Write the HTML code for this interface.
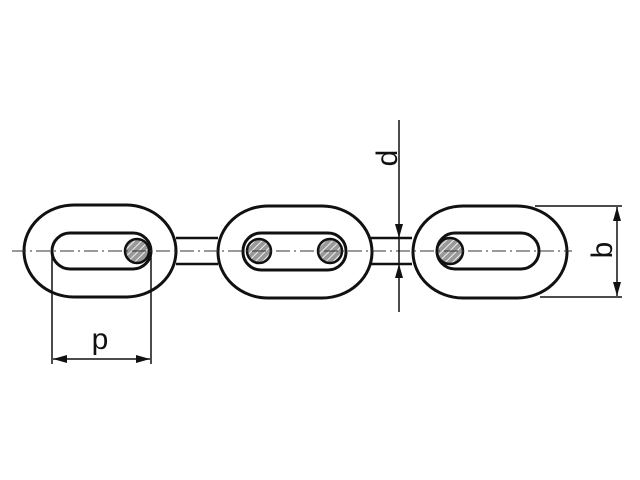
<!DOCTYPE html>
<html><head><meta charset="utf-8"><style>
html,body{margin:0;padding:0;background:#fff;}
svg{display:block}
text{font-family:"Liberation Sans",sans-serif;fill:#111}
</style></head><body>
<svg width="640" height="480" viewBox="0 0 640 480" xmlns="http://www.w3.org/2000/svg">
<defs>
<pattern id="h" width="5" height="5" patternUnits="userSpaceOnUse" patternTransform="rotate(45)">
<rect width="5" height="5" fill="#999"/>
<line x1="0" y1="0" x2="0" y2="5" stroke="#eee" stroke-width="2"/>
</pattern>
<marker id="a" markerWidth="14" markerHeight="8" refX="14" refY="4" orient="auto" markerUnits="userSpaceOnUse">
<path d="M0,0 L14,4 L0,8 Z" fill="#111"/>
</marker>
</defs>
<g fill="none" stroke="#111" stroke-width="3">
<!-- bars -->
<path d="M176,238 H218 M176,264 H218" stroke-width="2.5"/>
<path d="M370,238 H412 M370,264 H412" stroke-width="2.5"/>
<!-- link 1 -->
<rect x="24" y="205" width="152" height="92" rx="50" ry="46" fill="#fff"/>
<rect x="52" y="233" width="99" height="36" rx="18" fill="#fff"/>
<!-- link 2 -->
<rect x="218" y="206" width="154" height="92" rx="50" ry="46" fill="#fff"/>
<rect x="243" y="233" width="103" height="37" rx="18" fill="#fff"/>
<!-- link 3 -->
<rect x="413" y="206" width="154" height="92" rx="50" ry="46" fill="#fff"/>
<rect x="437" y="233" width="102" height="36" rx="18" fill="#fff"/>
</g>
<!-- pins -->
<g stroke="#111" stroke-width="2.5" fill="url(#h)">
<circle cx="137" cy="251" r="12"/>
<circle cx="259" cy="251" r="12"/>
<circle cx="330" cy="251" r="12"/>
<circle cx="450" cy="251" r="13"/>
</g>
<!-- centre line -->
<line x1="12" y1="251" x2="572" y2="251" stroke="#333" stroke-width="1" stroke-dasharray="14,4,2,4"/>
<!-- p dimension -->
<g stroke="#111" stroke-width="1.5" fill="none">
<line x1="52" y1="252" x2="52" y2="364"/>
<line x1="151" y1="252" x2="151" y2="364"/>
<line x1="100" y1="359" x2="53" y2="359" marker-end="url(#a)"/>
<line x1="100" y1="359" x2="150" y2="359" marker-end="url(#a)"/>
<!-- d -->
<line x1="399" y1="120" x2="399" y2="238" marker-end="url(#a)"/>
<line x1="399" y1="312" x2="399" y2="264" marker-end="url(#a)"/>
<line x1="399" y1="238" x2="399" y2="264"/>
<!-- b -->
<line x1="535" y1="206" x2="622" y2="206"/>
<line x1="540" y1="297" x2="622" y2="297"/>
<line x1="617" y1="250" x2="617" y2="207" marker-end="url(#a)"/>
<line x1="617" y1="250" x2="617" y2="296" marker-end="url(#a)"/>
</g>
<text x="100" y="349" font-size="30" text-anchor="middle">p</text>
<text transform="translate(397,158) rotate(-90)" font-size="30" text-anchor="middle">d</text>
<text transform="translate(612,250) rotate(-90)" font-size="30" text-anchor="middle">b</text>
</svg>
</body></html>
